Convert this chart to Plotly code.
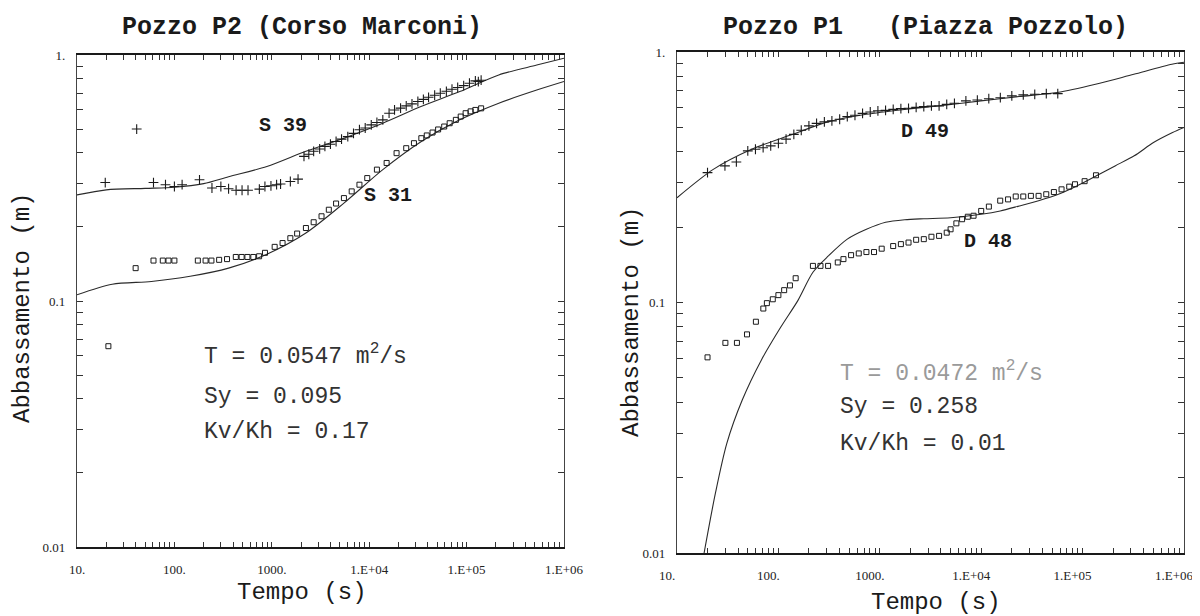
import plotly.graph_objects as go

# ---------------- data: Pozzo P2 (left panel) ----------------
s39_t = [19.5, 41, 61, 81, 100, 120, 181, 243, 300, 360, 430, 495, 570, 745, 850, 980, 1120, 1230, 1550, 1860,
         2140, 2400, 2690, 3100, 3510, 4000, 4570, 5200, 6030, 6900, 7940, 9100, 10500, 12000, 13800, 16000,
         18200, 21000, 24000, 27500, 31600, 36000, 40700, 47000, 53700, 62000, 70800, 81000, 93300, 107000,
         123000, 132000, 141000]
s39_s = [0.303, 0.50, 0.303, 0.297, 0.292, 0.297, 0.311, 0.288, 0.292, 0.286, 0.282, 0.282, 0.282, 0.285, 0.292,
         0.294, 0.297, 0.299, 0.306, 0.313, 0.387, 0.395, 0.406, 0.415, 0.425, 0.434, 0.445, 0.455, 0.466, 0.48,
         0.497, 0.505, 0.52, 0.532, 0.545, 0.58, 0.598, 0.608, 0.621, 0.633, 0.647, 0.66, 0.673, 0.686, 0.699,
         0.712, 0.726, 0.738, 0.751, 0.768, 0.785, 0.78, 0.79]

s31_t = [21, 40, 61, 76, 87, 100, 174, 209, 240, 288, 347, 427, 490, 562, 646, 741, 851, 1070, 1290, 1550, 1820,
         2240, 2690, 3240, 3850, 4570, 5500, 6610, 7940, 9550, 12000, 15100, 19100, 24000, 28800, 34300, 39000,
         44700, 51000, 58900, 67000, 77600, 87000, 97700, 110000, 123000, 141000]
s31_s = [0.0655, 0.136, 0.146, 0.146, 0.146, 0.146, 0.146, 0.146, 0.146, 0.147, 0.148, 0.151, 0.151, 0.151, 0.151,
         0.152, 0.157, 0.166, 0.172, 0.180, 0.188, 0.198, 0.209, 0.221, 0.235, 0.249, 0.262, 0.279, 0.297, 0.316,
         0.342, 0.364, 0.399, 0.418, 0.438, 0.459, 0.471, 0.484, 0.498, 0.512, 0.528, 0.545, 0.562, 0.58, 0.59,
         0.598, 0.607]

m39_t = [10, 20, 50, 100, 200, 360, 890, 2240, 5500, 13800, 34000, 85000, 214000, 525000, 1000000]
m39_s = [0.27, 0.283, 0.287, 0.29, 0.30, 0.32, 0.352, 0.406, 0.459, 0.528, 0.617, 0.71, 0.83, 0.91, 0.97]

m31_t = [10, 23, 58, 145, 360, 890, 2240, 5500, 13800, 34300, 85000, 214000, 525000, 1000000]
m31_s = [0.106, 0.117, 0.12, 0.126, 0.136, 0.155, 0.189, 0.25, 0.342, 0.445, 0.545, 0.637, 0.72, 0.78]

# ---------------- data: Pozzo P1 (right panel) ----------------
d49_t = [20, 29.7, 38.5, 49.9, 59.4, 70.7, 84, 100, 119, 142, 168, 200, 238, 284, 337, 402, 478, 569, 676, 805,
         958, 1140, 1356, 1614, 1920, 2283, 2716, 3230, 3843, 4571, 5445, 7063, 9162, 11885, 15442, 20045, 26000,
         33740, 43850, 56900]
d49_s = [0.330, 0.351, 0.364, 0.403, 0.409, 0.415, 0.422, 0.432, 0.449, 0.469, 0.487, 0.507, 0.519, 0.526, 0.531,
         0.539, 0.552, 0.559, 0.569, 0.576, 0.582, 0.585, 0.590, 0.594, 0.596, 0.601, 0.605, 0.609, 0.609, 0.618,
         0.624, 0.638, 0.643, 0.651, 0.657, 0.668, 0.674, 0.678, 0.682, 0.682]

d48_t = [20, 30, 39, 49, 60, 71, 77, 88, 100, 114, 130, 148, 219, 260, 309, 385, 438, 521, 620, 738, 877, 1044,
         1355, 1614, 1920, 2283, 2716, 3230, 3843, 4571, 4990, 5690, 6480, 7380, 8410, 10000, 11900, 15400, 18400,
         21900, 26000, 30900, 36800, 43800, 52100, 62000, 73800, 84100, 104700, 135500]
d48_s = [0.0604, 0.069, 0.069, 0.0746, 0.0838, 0.0946, 0.0994, 0.103, 0.107, 0.112, 0.117, 0.125, 0.140, 0.140,
         0.140, 0.1445, 0.149, 0.1545, 0.157, 0.159, 0.159, 0.164, 0.168, 0.171, 0.1735, 0.178, 0.179, 0.183,
         0.1845, 0.19, 0.196, 0.207, 0.215, 0.220, 0.222, 0.232, 0.2415, 0.255, 0.258, 0.265, 0.265, 0.2665,
         0.2665, 0.2705, 0.276, 0.283, 0.290, 0.2965, 0.305, 0.322]

m49_t = [10, 22.8, 54.5, 130, 308, 736, 1750, 4170, 9920, 23600, 56200, 134000, 320000, 760000, 1000000]
m49_s = [0.262, 0.34, 0.409, 0.465, 0.526, 0.564, 0.59, 0.612, 0.638, 0.664, 0.689, 0.743, 0.815, 0.893, 0.91]

m48_t = [18.5, 23.9, 31, 44, 68, 106, 156, 219, 309, 478, 738, 1140, 1760, 2716, 4990, 10000, 15400, 23800,
         36800, 56900, 87700, 135500, 209000, 323000, 500000, 771000, 1000000]
m48_s = [0.0100, 0.0173, 0.0274, 0.0408, 0.059, 0.080, 0.102, 0.132, 0.153, 0.179, 0.196, 0.209, 0.214, 0.216,
         0.218, 0.225, 0.232, 0.243, 0.255, 0.27, 0.292, 0.32, 0.351, 0.385, 0.435, 0.477, 0.5]

# ---------------- ticks & texts ----------------
x_tickvals = [10, 100, 1000, 10000, 100000, 1000000]
x_ticktext = ["10.", "100.", "1000.", "1.E+04", "1.E+05", "1.E+06"]
y_tickvals = [0.01, 0.1, 1]
y_ticktext = ["0.01", "0.1", "1."]

titles = ["Pozzo P2 (Corso Marconi)", "Pozzo P1   (Piazza Pozzolo)"]
params_left = ["T = 0.0547 m<sup>2</sup>/s", "Sy = 0.095", "Kv/Kh = 0.17"]
params_right = ["T = 0.0472 m<sup>2</sup>/s", "Sy = 0.258", "Kv/Kh = 0.01"]
x_title = "Tempo (s)"
y_title = "Abbassamento (m)"

W, H = 1200, 616
OFF = 8  # page body margin in the browser: figure pixel = page pixel - OFF
INK = "#1a1a1a"
MONO = "Liberation Mono"
SERIF = "Liberation Serif"

minor_x = [m * 10 ** e for e in range(1, 6) for m in range(2, 10)]
minor_y = [m * 10 ** e for e in (-2, -1) for m in range(2, 10)]


def px_x(p):
    return (p - OFF) / W


def px_y(p):
    return 1 - (p - OFF) / H


def base_axis(kind, domain, anchor):
    is_x = kind == "x"
    return dict(type="log", range=[1, 6] if is_x else [-2, 0], domain=domain, anchor=anchor,
                automargin=False, showgrid=False, zeroline=False)


def xaxis(domain, anchor, shift=0):
    d = base_axis("x", domain, anchor)
    d.update(tickmode="array", tickvals=minor_x + x_tickvals,
             ticktext=[""] * len(minor_x) + x_ticktext,
             ticks="inside", ticklen=5, tickwidth=1, tickcolor="#333",
             showline=True, linecolor=INK, linewidth=1.8, mirror="allticks",
             ticklabelstandoff=9, ticklabeloverflow="allow", ticklabelshift=shift,
             tickfont=dict(family=SERIF, size=13, color="#222"))
    return d


def yaxis(domain, anchor):
    d = base_axis("y", domain, anchor)
    d.update(tickmode="array", tickvals=minor_y + y_tickvals,
             ticktext=[""] * len(minor_y) + y_ticktext,
             ticks="inside", ticklen=6, tickwidth=1, tickcolor="#333",
             showline=True, linecolor="#444", linewidth=1.4, mirror="allticks",
             ticklabelstandoff=8, ticklabeloverflow="allow",
             tickfont=dict(family=SERIF, size=13, color="#222"))
    return d


def major_overlay(kind, domain, anchor, over):
    d = base_axis(kind, domain, anchor)
    d.update(overlaying=over, tickmode="array",
             tickvals=x_tickvals if kind == "x" else y_tickvals,
             ticks="inside", ticklen=10, tickwidth=1.4, tickcolor=INK,
             showticklabels=False, showline=False, mirror="ticks")
    return d


fig = go.Figure()


def model(t, s, xa, ya):
    fig.add_trace(go.Scatter(x=t, y=s, mode="lines", xaxis=xa, yaxis=ya, showlegend=False,
                             line=dict(color="#2a2a2a", width=1.1, shape="spline", smoothing=0.8)))


def plus(t, s, xa, ya):
    fig.add_trace(go.Scatter(x=t, y=s, mode="markers", xaxis=xa, yaxis=ya, showlegend=False,
                             marker=dict(symbol="cross-thin-open", size=7, color="#1a1a1a",
                                         line=dict(color="#1a1a1a", width=1.1))))


def square(t, s, xa, ya):
    fig.add_trace(go.Scatter(x=t, y=s, mode="markers", xaxis=xa, yaxis=ya, showlegend=False,
                             marker=dict(symbol="square-open", size=5, color="#1a1a1a",
                                         line=dict(color="#1a1a1a", width=1))))


model(m39_t, m39_s, "x", "y")
model(m31_t, m31_s, "x", "y")
plus(s39_t, s39_s, "x", "y")
square(s31_t, s31_s, "x", "y")

model(m49_t, m49_s, "x2", "y2")
model(m48_t, m48_s, "x2", "y2")
plus(d49_t, d49_s, "x2", "y2")
square(d48_t, d48_s, "x2", "y2")

ann = []


def text(x, y, s, size, bold=False, color=INK, xanchor="center", xref="paper", yref="paper", angle=0):
    ann.append(dict(x=x, y=y, xref=xref, yref=yref, text=s, showarrow=False, xanchor=xanchor,
                    yanchor="middle", textangle=angle,
                    font=dict(family=MONO, size=size, color=color, weight="bold" if bold else "normal")))


# titles
text(px_x(302), px_y(27), titles[0], 25, bold=True)
text(px_x(925), px_y(27), titles[1], 25, bold=True)
# axis titles
text(px_x(302), px_y(592), x_title, 24)
text(px_x(936), px_y(602), x_title, 24)
text(px_x(22), px_y(308), y_title, 24, angle=-90)
text(px_x(631), px_y(322), y_title, 24, angle=-90)

# curve labels (log10 data coordinates)
text(3.115, -0.285, "S 39", 20, bold=True, xref="x", yref="y")
text(4.19, -0.573, "S 31", 20, bold=True, xref="x", yref="y")
text(3.446, -0.319, "D 49", 20, bold=True, xref="x2", yref="y2")
text(4.067, -0.758, "D 48", 20, bold=True, xref="x2", yref="y2")

# parameter text
for s, ly in zip(params_left, [-1.2195, -1.39, -1.533]):
    text(2.283, ly, s, 23, xanchor="left", xref="x", yref="y", color="#333")
for i, (s, ly) in enumerate(zip(params_right, [-1.277, -1.417, -1.565])):
    text(2.588, ly, s, 23, xanchor="left", xref="x2", yref="y2", color="#9a9a9a" if i == 0 else "#333")

dxl = [px_x(77), px_x(564)]
dyl = [px_y(547), px_y(55)]
dxr = [px_x(677), px_x(1184)]
dyr = [px_y(553), px_y(52)]

fig.update_layout(
    width=W, height=H,
    margin=dict(l=0, r=0, t=0, b=0, autoexpand=False),
    paper_bgcolor="white", plot_bgcolor="white",
    xaxis=xaxis(dxl, "y"),
    yaxis=yaxis(dyl, "x"),
    xaxis2=xaxis(dxr, "y2", shift=-10),
    yaxis2=yaxis(dyr, "x2"),
    xaxis3=major_overlay("x", dxl, "y", "x"),
    yaxis3=major_overlay("y", dyl, "x", "y"),
    xaxis4=major_overlay("x", dxr, "y2", "x2"),
    yaxis4=major_overlay("y", dyr, "x2", "y2"),
    annotations=ann,
    showlegend=False,
)

fig.write_html("out.html")
